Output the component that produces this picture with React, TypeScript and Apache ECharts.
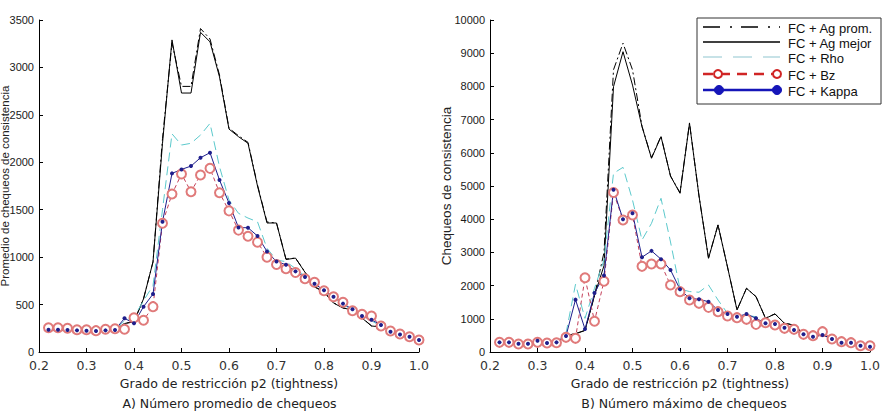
import React, { useEffect, useRef } from 'react';
import * as echarts from 'echarts';

const X_VALUES = [0.22, 0.24, 0.26, 0.28, 0.30, 0.32, 0.34, 0.36, 0.38, 0.40, 0.42, 0.44, 0.46, 0.48, 0.50, 0.52, 0.54, 0.56, 0.58, 0.60, 0.62, 0.64, 0.66, 0.68, 0.70, 0.72, 0.74, 0.76, 0.78, 0.80, 0.82, 0.84, 0.86, 0.88, 0.90, 0.92, 0.94, 0.96, 0.98, 1.00];

const SERIES_NAMES = ['FC + Ag prom.', 'FC + Ag mejor', 'FC + Rho', 'FC + Bz', 'FC + Kappa'];

// A) Número promedio de chequeos
const A_AG_PROM = [235, 232, 230, 228, 225, 222, 228, 235, 300, 320, 560, 950, 2250, 3260, 2800, 2800, 3410, 3300, 2920, 2360, 2280, 2210, 1760, 1370, 1360, 980, 990, 845, 690, 635, 520, 465, 445, 360, 276, 265, 233, 190, 158, 126];
const A_AG_MEJOR = [235, 232, 230, 228, 225, 222, 228, 235, 300, 320, 560, 950, 2200, 3290, 2730, 2730, 3370, 3270, 2900, 2350, 2270, 2200, 1750, 1360, 1360, 975, 990, 840, 685, 632, 516, 464, 443, 358, 274, 264, 232, 190, 158, 126];
const A_RHO = [230, 230, 228, 225, 222, 220, 225, 230, 330, 370, 540, 700, 1500, 2300, 2182, 2200, 2287, 2410, 1953, 1602, 1462, 1412, 1373, 1093, 970, 952, 880, 800, 720, 640, 570, 510, 430, 380, 330, 270, 215, 185, 155, 125];
const A_BZ = [255, 255, 250, 235, 235, 225, 240, 245, 240, 360, 335, 478, 1358, 1665, 1876, 1690, 1866, 1936, 1679, 1488, 1285, 1220, 1158, 1000, 922, 878, 838, 772, 735, 646, 583, 524, 435, 397, 379, 274, 221, 190, 161, 126];
const A_KAPPA = [235, 235, 232, 228, 225, 222, 228, 232, 355, 302, 478, 611, 1373, 1883, 1925, 1960, 2048, 2101, 1813, 1570, 1312, 1310, 1223, 1060, 953, 920, 850, 790, 720, 650, 583, 510, 450, 379, 340, 285, 214, 185, 161, 126];

// B) Número máximo de chequeos
const B_AG_PROM = [280, 280, 250, 250, 300, 270, 290, 500, 550, 650, 1700, 3000, 8500, 9300, 8500, 6800, 5850, 6500, 5300, 4800, 6900, 4700, 2830, 3830, 2560, 1270, 1920, 1670, 1020, 1150, 865, 815, 545, 450, 520, 400, 290, 260, 190, 160];
const B_AG_MEJOR = [280, 280, 250, 250, 300, 270, 290, 500, 550, 650, 1700, 2600, 7990, 9045, 8040, 6787, 5835, 6487, 5300, 4780, 6890, 4700, 2822, 3825, 2560, 1265, 1918, 1666, 1014, 1145, 863, 813, 542, 450, 520, 400, 290, 260, 190, 160];
const B_RHO = [300, 300, 260, 260, 330, 280, 300, 563, 2040, 1014, 1918, 2771, 5382, 5562, 4578, 3373, 3876, 4629, 3313, 1900, 1820, 1800, 2018, 1566, 1165, 1064, 1100, 1064, 900, 850, 740, 680, 540, 480, 520, 400, 290, 280, 200, 170];
const B_BZ = [291, 291, 241, 241, 291, 270, 280, 442, 412, 2235, 928, 2133, 4805, 3976, 4126, 2580, 2650, 2650, 2018, 1817, 1566, 1466, 1345, 1215, 1084, 1034, 984, 833, 883, 813, 713, 683, 532, 492, 612, 392, 311, 281, 190, 190];
const B_KAPPA = [290, 290, 250, 250, 340, 270, 290, 482, 1577, 690, 1776, 2304, 4890, 3996, 4177, 2855, 3046, 2796, 2470, 1888, 1617, 1587, 1515, 1265, 1145, 1064, 1145, 1014, 863, 843, 733, 663, 532, 462, 512, 392, 281, 281, 190, 160];

const X_NAME = 'Grado de restricción p2 (tightness)';
const Y_NAME_A = 'Promedio de chequeos de consistencia';
const Y_NAME_B = 'Chequeos de consistencia';
const CAPTION_A = 'A) Número promedio de chequeos';
const CAPTION_B = 'B) Número máximo de chequeos';

const STYLES: any[] = [
  { symbol: 'none', lineStyle: { color: '#000', width: 1, type: [8, 3, 2, 3] } },
  { symbol: 'none', lineStyle: { color: '#000', width: 1 } },
  { symbol: 'none', lineStyle: { color: '#5cc9cc', width: 1, type: [9, 5] } },
  {
    symbol: 'emptyCircle', symbolSize: 9,
    itemStyle: { color: '#e07a7a', borderColor: '#e07a7a', borderWidth: 1 },
    lineStyle: { color: '#c4405a', width: 1, type: [4, 3] },
  },
  {
    symbol: 'circle', symbolSize: 4,
    itemStyle: { color: '#1e1e8c' },
    lineStyle: { color: '#1e1e8c', width: 1 },
  },
];

function makeSeries(values: number[][], idx: number) {
  return values.map((vals, s) => ({
    type: 'line',
    name: SERIES_NAMES[s],
    xAxisIndex: idx,
    yAxisIndex: idx,
    silent: true,
    data: X_VALUES.map((x, i) => [x, vals[i]]),
    ...STYLES[s],
  }));
}

function xAxis(gridIndex: number) {
  return {
    type: 'value', gridIndex, min: 0.2, max: 1.0, interval: 0.1,
    name: X_NAME, nameLocation: 'middle', nameGap: 22,
    nameTextStyle: { fontFamily: 'DejaVu Sans', fontSize: 12.5, color: '#222' },
    axisLine: { lineStyle: { color: '#000', width: 1 } },
    axisTick: { inside: true, length: 4, lineStyle: { color: '#000' } },
    axisLabel: { fontFamily: 'DejaVu Sans', fontSize: 12.5, color: '#333', margin: 7, formatter: (v: number) => v.toFixed(1) },
    splitLine: { show: false },
  };
}

function yAxis(gridIndex: number, max: number, interval: number, name: string, gap: number, nameSize: number) {
  return {
    type: 'value', gridIndex, min: 0, max, interval,
    name, nameLocation: 'middle', nameGap: gap, nameRotate: 90, nameMoveOverlap: false,
    nameTextStyle: { fontFamily: 'Liberation Sans', fontSize: nameSize, color: '#222' },
    axisLine: { show: true, lineStyle: { color: '#000', width: 1 } },
    axisTick: { show: true, inside: true, length: 4, lineStyle: { color: '#000' } },
    axisLabel: { fontFamily: 'Liberation Sans', fontSize: 11, color: '#1a1a1a', margin: 5, formatter: (v: number) => String(v) },
    splitLine: { show: false },
  };
}

function legendGraphics() {
  const rows = [27, 42, 57, 74, 90];
  const x1 = 703, x2 = 780;
  const els: any[] = [
    { type: 'rect', shape: { x: 697, y: 18, width: 184, height: 86 }, style: { fill: '#fff', stroke: '#333', lineWidth: 1 }, z: 10 },
    { type: 'line', shape: { x1, y1: rows[0], x2, y2: rows[0] }, style: { stroke: '#000', lineWidth: 1.3, lineDash: [17, 10, 2, 9] }, z: 11 },
    { type: 'line', shape: { x1, y1: rows[1], x2, y2: rows[1] }, style: { stroke: '#000', lineWidth: 1.3 }, z: 11 },
    { type: 'line', shape: { x1, y1: rows[2], x2, y2: rows[2] }, style: { stroke: '#b5d9df', lineWidth: 1.3, lineDash: [19, 11] }, z: 11 },
    { type: 'line', shape: { x1, y1: rows[3], x2, y2: rows[3] }, style: { stroke: '#d02525', lineWidth: 2.5, lineDash: [10, 7] }, z: 11 },
    { type: 'circle', shape: { cx: 718, cy: rows[3], r: 4 }, style: { fill: '#fff', stroke: '#d02525', lineWidth: 2 }, z: 12 },
    { type: 'circle', shape: { cx: 777, cy: rows[3], r: 4 }, style: { fill: '#fff', stroke: '#d02525', lineWidth: 2 }, z: 12 },
    { type: 'line', shape: { x1, y1: rows[4], x2, y2: rows[4] }, style: { stroke: '#1515b8', lineWidth: 2.5 }, z: 11 },
    { type: 'circle', shape: { cx: 719, cy: rows[4], r: 4.5 }, style: { fill: '#1515b8', stroke: '#1515b8', lineWidth: 1 }, z: 12 },
    { type: 'circle', shape: { cx: 777, cy: rows[4], r: 4.5 }, style: { fill: '#1515b8', stroke: '#1515b8', lineWidth: 1 }, z: 12 },
  ];
  SERIES_NAMES.forEach((n, i) => {
    els.push({
      type: 'text', x: 788, y: rows[i] + 1, z: 12,
      style: { text: n, fill: '#111', font: '13px "Liberation Sans"', textAlign: 'left', textVerticalAlign: 'middle', align: 'left', verticalAlign: 'middle' },
    });
  });
  return els;
}

function captionGraphics() {
  return [
    { type: 'text', x: 229.5, y: 403, style: { text: CAPTION_A, fill: '#222', font: '12.5px "DejaVu Sans"', textAlign: 'center', textVerticalAlign: 'middle', align: 'center', verticalAlign: 'middle' } },
    { type: 'text', x: 684, y: 403, style: { text: CAPTION_B, fill: '#222', font: '12.5px "DejaVu Sans"', textAlign: 'center', textVerticalAlign: 'middle', align: 'center', verticalAlign: 'middle' } },
  ];
}

export default function App() {
  const ref = useRef<HTMLDivElement>(null);
  useEffect(() => {
    document.body.style.margin = '0';
    const chart = echarts.init(ref.current!, null, { renderer: 'svg', width: 886, height: 414 });
    const option: any = {
      animation: false,
      backgroundColor: '#fff',
      grid: [
        { left: 39, right: 886 - 419, top: 20, bottom: 62, outerBoundsMode: 'none' },
        { left: 490, right: 886 - 870, top: 20, bottom: 62, outerBoundsMode: 'none' },
      ],
      xAxis: [xAxis(0), xAxis(1)],
      yAxis: [
        yAxis(0, 3500, 500, Y_NAME_A, 28, 11.5),
        yAxis(1, 10000, 1000, Y_NAME_B, 37, 13.5),
      ],
      series: [
        ...makeSeries([A_AG_PROM, A_AG_MEJOR, A_RHO, A_BZ, A_KAPPA], 0),
        ...makeSeries([B_AG_PROM, B_AG_MEJOR, B_RHO, B_BZ, B_KAPPA], 1),
      ],
      graphic: [...legendGraphics(), ...captionGraphics()],
    };
    chart.setOption(option);
    return () => chart.dispose();
  }, []);
  return <div ref={ref} style={{ width: 886, height: 414, background: '#fff' }} />;
}
